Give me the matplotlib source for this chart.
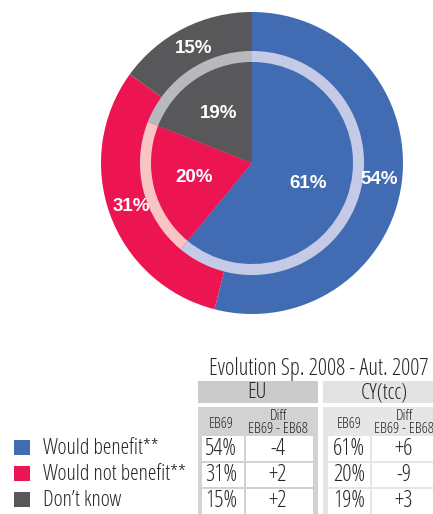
import matplotlib.pyplot as plt
from matplotlib.patches import Rectangle

# data
categories = ["Would benefit**", "Would not benefit**", "Don\u2019t know"]
eu_eb69 = [54, 31, 15]
eu_diff = [-4, 2, 2]
cy_eb69 = [61, 20, 19]
cy_diff = [6, -9, 3]
title = "Evolution Sp. 2008 - Aut. 2007"
groups = ["EU", "CY(tcc)"]
sub_cols = ["EB69", "Diff\nEB69 - EB68"]

colors = ["#416bb3", "#ec1551", "#58585a"]
ring_colors = ["#c5cbe6", "#f9c4c4", "#b8b9bc"]
txt = "#262626"
cond = dict(family="Open Sans", fontstretch="condensed", color=txt)

W, H = 433, 514
fig = plt.figure(figsize=(W / 100, H / 100), dpi=100)
fig.patch.set_facecolor("white")
renderer = fig.canvas.get_renderer()


def fit(t, width):
    # scale font so the text spans `width` pixels
    w = t.get_window_extent(renderer).width
    t.set_fontsize(t.get_fontsize() * width / w)
    return t.get_fontsize()


# pie axes: center (252, 163) px, outer radius 151 px
cx, cy, r = 252, 163, 151
ax = fig.add_axes([(cx - r) / W, (H - cy - r) / H, 2 * r / W, 2 * r / H])
lbl = dict(color="white", fontsize=13.5, fontweight="bold", family="Liberation Sans")

ax.pie(eu_eb69, colors=colors, startangle=90, counterclock=False, radius=1,
       autopct=lambda p: f"{p:.0f}%", pctdistance=0.85,
       wedgeprops=dict(linewidth=0), textprops=lbl)
ax.pie(cy_eb69, colors=ring_colors, startangle=90, counterclock=False,
       radius=0.742, wedgeprops=dict(linewidth=0))
ax.pie(cy_eb69, colors=colors, startangle=90, counterclock=False, radius=0.669,
       autopct=lambda p: f"{p:.0f}%", pctdistance=0.59,
       wedgeprops=dict(linewidth=0), textprops=lbl)
ax.set_xlim(-1, 1)
ax.set_ylim(-1, 1)
ax.set_aspect("equal")
ax.axis("off")

# table / legend axes in pixel coords
tx = fig.add_axes([0, 0, 1, 1])
tx.set_xlim(0, W)
tx.set_ylim(H, 0)
tx.axis("off")

t = tx.text(319, 369, title, ha="center", va="center", fontsize=14, **cond)
fit(t, 220)

row_y = [449, 475, 501]
row_edges = [435, 462, 488, 516]

# x0, x1, header color, body color, header text x, col splits, col text x
blocks = [
    (198, 318, "#cbcbcb", "#d2d2d2", 257, (201, 245, 314), (221, 278)),
    (323, 445, "#e3e3e3", "#e6e6e6", 384, (327, 371, 445), (349, 404)),
]
values = [(eu_eb69, eu_diff), (cy_eb69, cy_diff)]

# reference sizes measured on one sample of each kind
probe = tx.text(0, 0, groups[1], fontsize=12, **cond)
head_fs = fit(probe, 47)
probe.set_text(sub_cols[0]); probe.set_fontsize(9)
eb_fs = fit(probe, 25)
probe.set_text(sub_cols[1]); probe.set_fontsize(9)
diff_fs = fit(probe, 60)
probe.set_text("54%"); probe.set_fontsize(12)
cell_fs = fit(probe, 32)
probe.set_text(categories[1]); probe.set_fontsize(12)
leg_fs = fit(probe, 142)
probe.remove()

for (x0, x1, hc, bc, hx, splits, ctx), name, (v1, v2) in zip(blocks, groups, values):
    tx.add_patch(Rectangle((x0, 381), x1 - x0, 22, facecolor=hc, edgecolor="none"))
    tx.text(hx, 393, name, ha="center", va="center", fontsize=head_fs, **cond)
    tx.add_patch(Rectangle((x0, 407), x1 - x0, H - 407, facecolor=bc, edgecolor="none"))
    tx.text(ctx[0], 424, sub_cols[0], ha="center", va="center", fontsize=eb_fs, **cond)
    tx.text(ctx[1], 423, sub_cols[1], ha="center", va="center", fontsize=diff_fs,
            linespacing=0.9, **cond)
    for i in range(len(categories)):
        y0, y1 = row_edges[i], row_edges[i + 1]
        for j in range(2):
            tx.add_patch(Rectangle((splits[j] + 0.6, y0 + 0.6),
                                   splits[j + 1] - splits[j] - 1.2, y1 - y0 - 1.2,
                                   facecolor="white", edgecolor="none"))
        tx.text(ctx[0], row_y[i], f"{v1[i]}%", ha="center", va="center",
                fontsize=cell_fs, **cond)
        tx.text(ctx[1], row_y[i], f"{v2[i]:+d}", ha="center", va="center",
                fontsize=cell_fs, **cond)

# legend
for i, (lab, c) in enumerate(zip(categories, colors)):
    tx.add_patch(Rectangle((14, row_y[i] - 9), 16, 15, facecolor=c, edgecolor="none"))
    tx.text(43, row_y[i], lab, ha="left", va="center", fontsize=leg_fs, **cond)

fig.savefig("out.png", dpi=100, facecolor="white")
